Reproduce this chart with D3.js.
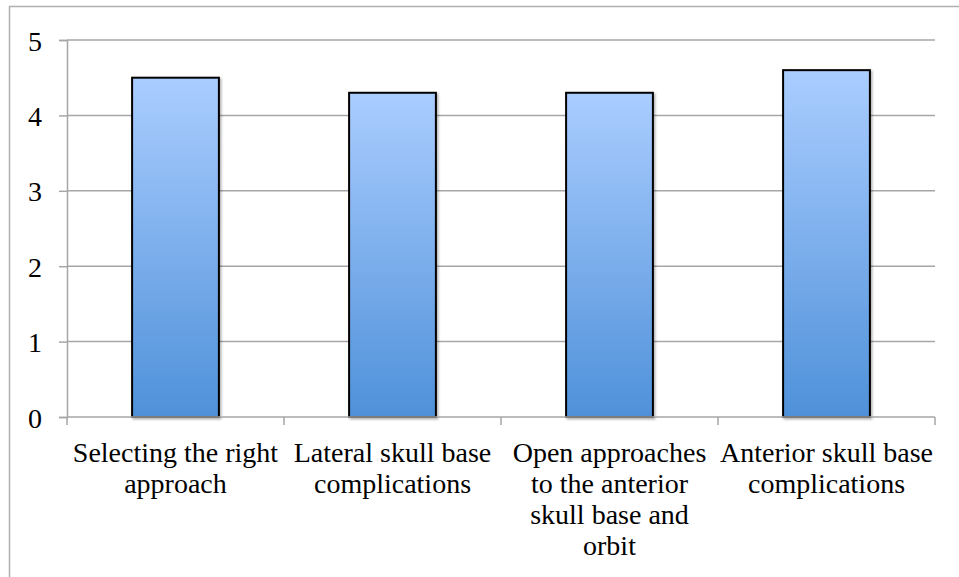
<!DOCTYPE html>
<html><head><meta charset="utf-8">
<script src="https://cdn.jsdelivr.net/npm/d3@7"></script>
<style>html,body{margin:0;padding:0;background:#fff;}</style>
</head><body>
<svg id="c" width="959" height="577"></svg>
<script>
const categories = [
  ["Selecting the right", "approach"],
  ["Lateral skull base", "complications"],
  ["Open approaches", "to the anterior", "skull base and", "orbit"],
  ["Anterior skull base", "complications"]
];
const values = [4.5, 4.3, 4.3, 4.6];
const yTicks = [0, 1, 2, 3, 4, 5];

(function() {
const svg = d3.select("#c");
const font = "'Liberation Serif', serif";
const pLeft = 67, pRight = 935, pTop = 40, pBottom = 417;

svg.append("rect").attr("x", 9.5).attr("y", 6.5).attr("width", 960).attr("height", 600)
  .attr("fill", "none").attr("stroke", "#b0b0b0").attr("stroke-width", 1.5);

const defs = svg.append("defs");
const g = defs.append("linearGradient").attr("id", "bg").attr("x1", 0).attr("y1", 0).attr("x2", 0).attr("y2", 1);
g.append("stop").attr("offset", "0%").attr("stop-color", "#aacdff");
g.append("stop").attr("offset", "100%").attr("stop-color", "#4f91d9");
const f = defs.append("filter").attr("id", "sh").attr("x", "-10%").attr("y", "-10%").attr("width", "130%").attr("height", "130%");
f.append("feDropShadow").attr("dx", 1.5).attr("dy", 1.5).attr("stdDeviation", 1.2).attr("flood-color", "#000").attr("flood-opacity", 0.3);

const x = d3.scaleBand().domain(d3.range(categories.length)).range([pLeft, pRight]).padding(0);
const y = d3.scaleLinear().domain([0, 5]).range([pBottom, pTop]);

svg.append("g").selectAll("line").data(yTicks.filter(d => d > 0)).join("line")
  .attr("x1", pLeft).attr("x2", pRight).attr("y1", d => y(d)).attr("y2", d => y(d))
  .attr("stroke", "#a6a6a6").attr("stroke-width", 1.5);

const yAxis = svg.append("g").attr("transform", `translate(${pLeft},0)`)
  .call(d3.axisLeft(y).tickValues(yTicks).tickSize(8).tickPadding(17).tickFormat(d3.format("d")));
yAxis.select(".domain").attr("stroke", "#a6a6a6").attr("stroke-width", 1.5);
yAxis.selectAll(".tick line").attr("stroke", "#a6a6a6").attr("stroke-width", 1.5);
yAxis.selectAll(".tick text").attr("font-family", font).attr("font-size", 28).attr("fill", "#000").attr("dy", "0.36em");

const bw = x.bandwidth() * 0.4;
svg.append("g").selectAll("rect").data(values).join("rect")
  .attr("x", (d, i) => x(i) + (x.bandwidth() - bw) / 2)
  .attr("y", d => y(d))
  .attr("width", bw)
  .attr("height", d => y(0) - y(d))
  .attr("fill", "url(#bg)")
  .attr("stroke", "#000").attr("stroke-width", 2)
  .attr("filter", "url(#sh)");

svg.append("line").attr("x1", pLeft).attr("x2", pRight).attr("y1", pBottom).attr("y2", pBottom)
  .attr("stroke", "#a6a6a6").attr("stroke-width", 1.5);
svg.append("g").selectAll("line").data(d3.range(categories.length + 1)).join("line")
  .attr("x1", i => pLeft + i * x.bandwidth()).attr("x2", i => pLeft + i * x.bandwidth())
  .attr("y1", pBottom).attr("y2", pBottom + 8)
  .attr("stroke", "#a6a6a6").attr("stroke-width", 1.5);

const lab = svg.append("g").selectAll("text").data(categories).join("text")
  .attr("font-family", font).attr("font-size", 28).attr("text-anchor", "middle").attr("fill", "#000");
lab.each(function(lines, i) {
  d3.select(this).selectAll("tspan").data(lines).join("tspan")
    .attr("x", x(i) + x.bandwidth() / 2)
    .attr("y", (d, j) => 462 + j * 31)
    .text(d => d);
});
})();
</script>
</body></html>
